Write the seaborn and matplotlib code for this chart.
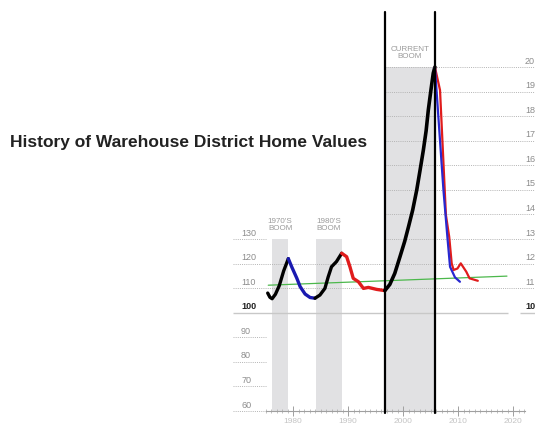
import matplotlib
matplotlib.use("Agg")
import matplotlib.pyplot as plt
import numpy as np
import pandas as pd
import seaborn as sns

# --- data (years, index values) ---
black1_years = [1975.4, 1975.8, 1976.2, 1976.8, 1977.5, 1978.3, 1979.15]
black1_vals = [108.0, 106.3, 105.7, 107.5, 111.0, 117.0, 122.0]

blue1_years = [1979.15, 1979.8, 1980.7, 1981.3, 1982.2, 1983.1, 1984.0]
blue1_vals = [122.0, 118.5, 114.0, 110.6, 107.6, 106.2, 105.9]

black2_years = [1984.0, 1984.9, 1985.8, 1986.4, 1987.0, 1987.9, 1988.85]
black2_vals = [105.9, 107.2, 109.9, 114.6, 118.7, 120.8, 124.2]

red1_years = [1988.85, 1989.75, 1990.35, 1990.95, 1991.9, 1992.8, 1993.7, 1995.2, 1996.7]
red1_vals = [124.2, 122.8, 118.7, 114.0, 112.6, 109.9, 110.3, 109.5, 109.0]

black3_years = [1996.7, 1997.6, 1998.5, 1999.45, 2000.3, 2001.0, 2001.76, 2002.5,
                2003.1, 2003.7, 2004.2, 2004.6, 2005.1, 2005.5, 2005.8]
black3_vals = [109.0, 111.5, 116.0, 122.8, 129.0, 135.0, 141.8, 150.0,
               158.0, 166.2, 174.0, 182.5, 191.0, 197.5, 200.0]

blue2_years = [2005.8, 2007.35, 2008.1, 2008.55, 2009.45, 2010.35]
blue2_vals = [200.0, 150.0, 130.0, 118.7, 114.4, 112.6]

red2_years = [2005.8, 2006.73, 2007.8, 2008.4, 2008.85, 2009.2, 2009.9, 2010.5, 2011.5, 2012.1, 2013.6]
red2_vals = [200.0, 190.6, 139.8, 130.9, 120.1, 117.4, 118.0, 120.1, 116.7, 114.0, 113.0]

trend_years = [1975.5, 2018.9]
trend_vals = [111.2, 114.9]

booms = [("1970'S\nBOOM", 1976.2, 1979.1, 130),
         ("1980'S\nBOOM", 1984.2, 1988.9, 130),
         ("CURRENT\nBOOM", 1996.7, 2005.8, 200)]

left_ticks = [130, 120, 110, 100, 90, 80, 70, 60]
right_ticks = [200, 190, 180, 170, 160, 150, 140, 130, 120, 110, 100]
right_labels = ["20", "19", "18", "17", "16", "15", "14", "13", "12", "11", "10"]
x_major = [1980, 1990, 2000, 2010, 2020]

sns.set_style("white")
plt.rcParams["font.family"] = ["Liberation Sans", "DejaVu Sans"]

fig = plt.figure(figsize=(5.35, 4.24), dpi=100)
ax = fig.add_axes([233 / 535, 13 / 424, (525 - 233) / 535, (411 - 12) / 424])
x_lo, x_hi = 1969.09, 2022.18
ax.set_xlim(x_lo, x_hi)
ax.set_ylim(60, 222.4)
ax.set_facecolor("none")

# boom shading + vertical markers
shade = "#e1e1e3"
for label, x0, x1, top in booms:
    ax.fill_between([x0, x1], 60, top, color=shade, lw=0, zorder=0)
    ax.text((x0 + x1) / 2, top + 3.0, label, ha="center", va="bottom",
            fontsize=5.8, color="#9a9a9a", linespacing=0.95)
for xv in (booms[2][1], booms[2][2]):
    ax.axvline(xv, ymin=-0.006, ymax=1, color="black", lw=1.6, clip_on=False, zorder=5)

# gridlines
grid_kw = dict(color="#b4b4b4", lw=0.7, linestyles=(0, (1, 1.2)), zorder=1, clip_on=False)
for v in left_ticks:
    if v in (110, 120):
        ax.hlines(v, x_lo, 2024.0, **grid_kw)
    elif v == 100:
        ax.hlines(v, x_lo, 2019.1, color="#c8c8c8", lw=1.0, zorder=1)
        ax.hlines(v, 2021.3, 2024.0, color="#c8c8c8", lw=1.0, zorder=1, clip_on=False)
    else:
        ax.hlines(v, x_lo, 1975.1, **grid_kw)
for v in right_ticks:
    if v >= 130:
        ax.hlines(v, booms[2][1], 2024.0, **grid_kw)

# left labels
for v in left_ticks:
    bold = v == 100
    ax.text(1970.55, v + 0.6, str(v), ha="left", va="bottom", fontsize=6.5,
            color="#222222" if bold else "#8c8c8c", fontweight="bold" if bold else "normal")
# right labels
for v, lab in zip(right_ticks, right_labels):
    bold = v == 100
    ax.text(x_hi, v + 0.6, lab, ha="left", va="bottom", fontsize=6.5,
            color="#222222" if bold else "#8c8c8c", fontweight="bold" if bold else "normal",
            clip_on=False)

# series
def seg(years, vals, color, lw, z):
    df = pd.DataFrame({"year": years, "value": vals})
    sns.lineplot(data=df, x="year", y="value", color=color, lw=lw, sort=False,
                 ax=ax, zorder=z, solid_capstyle="round", solid_joinstyle="round")

seg(trend_years, trend_vals, "#4cb84c", 0.9, 2)
seg(black1_years, black1_vals, "black", 2.4, 3)
seg(blue1_years, blue1_vals, "#1a1ab0", 2.4, 3)
seg(black2_years, black2_vals, "black", 2.4, 3)
seg(red1_years, red1_vals, "#e01c1c", 2.4, 3)
seg(black3_years, black3_vals, "black", 2.6, 3)
seg(red2_years, red2_vals, "#e01c1c", 1.6, 3)
seg(blue2_years, blue2_vals, "#2828d0", 1.6, 4)

# axes styling
for s in ("top", "right", "left"):
    ax.spines[s].set_visible(False)
ax.spines["bottom"].set_bounds(1975.1, 2022.2)
ax.spines["bottom"].set_color("#a0a0a0")
ax.spines["bottom"].set_linewidth(0.8)
ax.set_yticks([])
ax.set_xticks(x_major)
ax.set_xticklabels([str(x) for x in x_major], fontsize=6, color="#c4c4c4")
ax.set_xticks(np.arange(1975, 2023), minor=True)
ax.tick_params(axis="x", which="major", direction="inout", length=7, width=0.7,
               color="#a0a0a0", pad=1.5, bottom=True)
ax.tick_params(axis="x", which="minor", direction="inout", length=3, width=0.5,
               color="#a8a8a8", bottom=True)
ax.set_xlabel("")
ax.set_ylabel("")

fig.text(10 / 535, 1 - 143 / 424, "History of Warehouse District Home Values",
         ha="left", va="center", fontsize=12.5, fontweight="bold", color="#222222")

fig.savefig("out.png", dpi=100)
